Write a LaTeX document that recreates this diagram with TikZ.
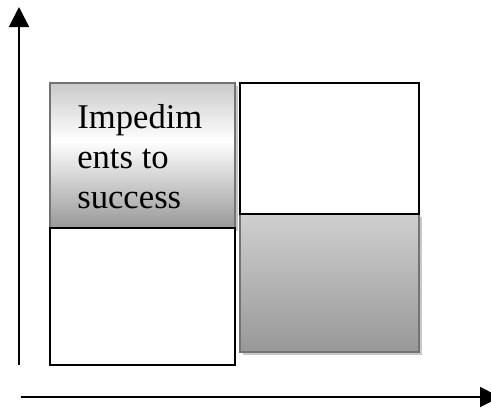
\documentclass[tikz,border=0pt]{standalone}
\usepackage{fontspec}
\setmainfont{Liberation Serif}
\usetikzlibrary{arrows.meta,shadows}

\definecolor{shadetop}{HTML}{CACACA}
\definecolor{shadebot}{HTML}{989898}
\definecolor{rimgray}{HTML}{737373}
\definecolor{shadowgray}{HTML}{C8C8C8}

% light grey at the top, white near the middle, darker grey at the bottom
\pgfdeclareverticalshading{greyband}{100bp}{%
  color(0bp)=(shadebot); color(25bp)=(shadebot);
  color(55bp)=(white);
  color(75bp)=(shadetop); color(100bp)=(shadetop)}

\tikzset{
  px/.style={x=0.75pt,y=-0.75pt},
  plainbox/.style={draw=black,line width=1.5pt,fill=white,inner sep=0pt},
  greybox/.style={draw=rimgray,line width=1.5pt,inner sep=0pt,
    drop shadow={shadow xshift=2.5pt,shadow yshift=-2.5pt,fill=shadowgray,opacity=1}},
  axis/.style={line width=1.4pt,-{Triangle[length=15pt,width=15pt]}},
  boxtext/.style={font=\fontsize{26}{30}\selectfont,align=left,inner sep=0pt}
}

\begin{document}
\begin{tikzpicture}[px]
  \useasboundingbox (0,0) rectangle (491,407);

  % axes
  \coordinate (yfoot) at (19,365);
  \coordinate (ytip) at (19,7);
  \coordinate (xfoot) at (21,397);
  \coordinate (xtip) at (500,397);
  \draw[axis] (yfoot) -- (ytip);
  \draw[axis] (xfoot) -- (xtip);

  % right column
  \node[greybox,top color=shadetop!90!white,bottom color=shadebot,
        minimum width=134.25pt,minimum height=103.5pt] (rb) at (329.5,283) {};
  \node[plainbox,minimum width=134.25pt,minimum height=98.25pt] (rt) at (329.5,148.5) {};

  % left column
  \node[greybox,shading=greyband,
        minimum width=138.75pt,minimum height=108.75pt] (lt) at (142.5,155.5) {};
  \node[plainbox,minimum width=138.75pt,minimum height=102.75pt] (lb) at (142.5,296.5) {};

  % the multi-line label sits on the baseline of its last line
  \node[boxtext,anchor=base west] (imptext) at (77,208) {Impedim\\ents to\\success};
\end{tikzpicture}
\end{document}
